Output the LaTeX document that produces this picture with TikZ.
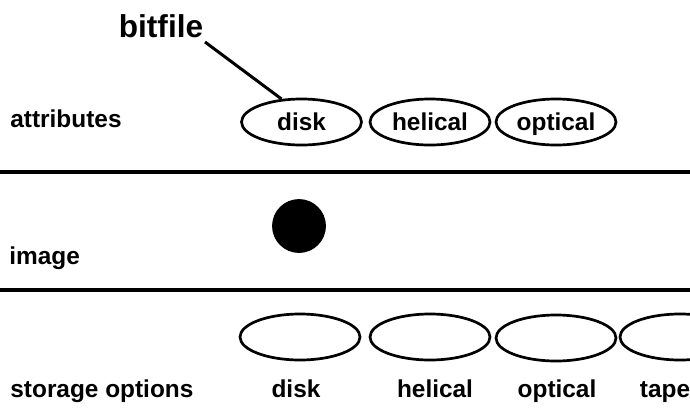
\documentclass[tikz,border=0pt]{standalone}
\usepackage{fontspec}
\setmainfont{Liberation Sans}
\usetikzlibrary{shapes.geometric}
\begin{document}
\begin{tikzpicture}[x=0.5pt,y=-0.5pt,
  lbl/.style={font=\bfseries\fontsize{12.2}{14}\selectfont, inner sep=0pt},
  attr/.style={draw, line width=1.35pt, ellipse, minimum width=60pt, minimum height=23pt, inner sep=0pt, text height=8.8pt, text depth=0pt, font=\bfseries\fontsize{12.2}{14}\selectfont},
  opt/.style={draw, line width=1.35pt, ellipse, minimum width=60pt, minimum height=23pt, inner sep=0pt},
  rule/.style={line width=1.7pt}]
\useasboundingbox (0,0) rectangle (690,407);
\node[font=\bfseries\fontsize{15.8}{18}\selectfont, inner sep=0pt, anchor=base] (bf) at (161,37) {bitfile};
\node[lbl, anchor=base west] (la) at (10,127) {attributes};
\node[attr] (a1) at (301.5,122) {disk};
\node[attr] (a2) at (430,122) {helical};
\node[attr] (a3) at (556,122) {optical};
\coordinate (bfs) at (205,42);
\draw[line width=1.5pt] (bfs) -- (a1.131);
\coordinate (l1a) at (0,172); \coordinate (l1b) at (690,172);
\draw[rule] (l1a) -- (l1b);
\node[draw, fill=black, circle, minimum size=26.5pt, inner sep=0pt] (dot) at (299,226) {};
\node[lbl, anchor=base west] (li) at (9,264) {image};
\coordinate (l2a) at (0,290); \coordinate (l2b) at (690,290);
\draw[rule] (l2a) -- (l2b);
\node[opt] (o1) at (300,337) {};
\node[opt] (o2) at (430,337) {};
\node[opt] (o3) at (556,338) {};
\node[opt] (o4) at (680,337) {};
\node[lbl, anchor=base west] (ls) at (10,397) {storage options};
\node[lbl, anchor=base] (t1) at (296,397) {disk};
\node[lbl, anchor=base] (t2) at (435,397) {helical};
\node[lbl, anchor=base] (t3) at (557,397) {optical};
\node[lbl, anchor=base] (t4) at (665,397) {tape};
\end{tikzpicture}
\end{document}
